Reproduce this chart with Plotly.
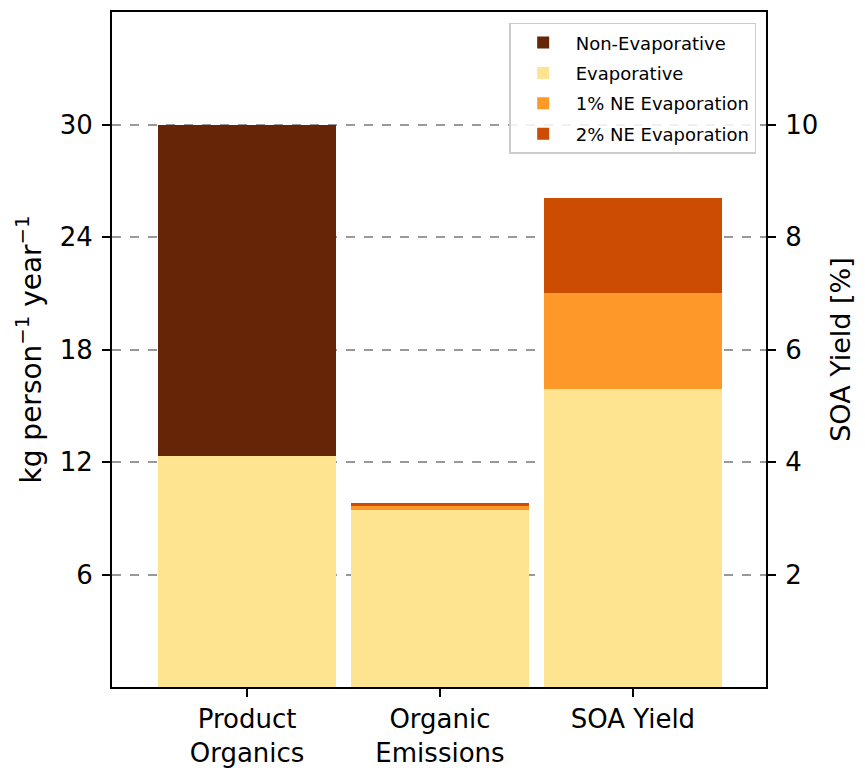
import plotly.graph_objects as go

# ---- data ----
categories = ["Product<br>Organics", "Organic<br>Emissions", "SOA Yield"]
cat_pos = [0, 1, 2]

# left axis (kg person^-1 year^-1)
evap_left = [12.3, 9.45]          # Product Organics, Organic Emissions
nonevap_left = [17.7]             # Product Organics
ne1_left = [0.18]                 # Organic Emissions
ne2_left = [0.18]                 # Organic Emissions

# right axis (SOA Yield %)
evap_soa = [5.29]
ne1_soa = [1.71]
ne2_soa = [1.70]

left_ticks = [6, 12, 18, 24, 30]
right_ticks = [2, 4, 6, 8, 10]

colors = {
    "Non-Evaporative": "#662506",
    "Evaporative": "#fee391",
    "1% NE Evaporation": "#fe9929",
    "2% NE Evaporation": "#cc4c02",
}
W = 0.92
FONT = "DejaVu Sans"

fig = go.Figure()

# Left axis stacks
fig.add_bar(x=cat_pos[:2], y=evap_left, name="Evaporative", legendgroup="ev",
            marker_color=colors["Evaporative"], width=W, legendrank=2,
            marker_line_width=0)
fig.add_bar(x=cat_pos[:1], y=nonevap_left, name="Non-Evaporative", legendgroup="ne",
            marker_color=colors["Non-Evaporative"], width=W, legendrank=1,
            marker_line_width=0)
fig.add_bar(x=cat_pos[1:2], y=ne1_left, name="1% NE Evaporation", legendgroup="n1",
            marker_color=colors["1% NE Evaporation"], width=W, legendrank=3,
            marker_line_width=0)
fig.add_bar(x=cat_pos[1:2], y=ne2_left, name="2% NE Evaporation", legendgroup="n2",
            marker_color=colors["2% NE Evaporation"], width=W, legendrank=4,
            marker_line_width=0)

# Right axis stacks
fig.add_bar(x=cat_pos[2:], y=evap_soa, name="Evaporative", legendgroup="ev", showlegend=False,
            marker_color=colors["Evaporative"], width=W, yaxis="y2", marker_line_width=0)
fig.add_bar(x=cat_pos[2:], y=ne1_soa, name="1% NE Evaporation", legendgroup="n1", showlegend=False,
            marker_color=colors["1% NE Evaporation"], width=W, yaxis="y2", marker_line_width=0)
fig.add_bar(x=cat_pos[2:], y=ne2_soa, name="2% NE Evaporation", legendgroup="n2", showlegend=False,
            marker_color=colors["2% NE Evaporation"], width=W, yaxis="y2", marker_line_width=0)

fig.update_layout(
    width=865, height=774,
    margin=dict(l=112, r=99, t=12, b=87, autoexpand=False),
    paper_bgcolor="white", plot_bgcolor="white",
    barmode="stack", bargap=0,
    font=dict(family=FONT, size=26, color="black"),
    showlegend=True,
    legend=dict(
        x=0.985, y=0.984, xanchor="right", yanchor="top",
        bgcolor="rgba(255,255,255,0.85)", bordercolor="#cccccc", borderwidth=1.5,
        font=dict(family=FONT, size=18, color="black"),
        traceorder="grouped", itemsizing="constant", tracegroupgap=4,
        itemwidth=55,
    ),
    xaxis=dict(
        range=[-0.7, 2.69], tickvals=cat_pos, ticktext=categories,
        showgrid=False, zeroline=False,
        showline=True, linecolor="black", linewidth=2, mirror=True,
        ticks="outside", ticklen=8, tickwidth=1.5, tickcolor="black",
        tickfont=dict(size=26),
    ),
    yaxis=dict(
        range=[0, 36], tickvals=left_ticks,
        title=dict(text="kg person<sup>\u22121</sup> year<sup>\u22121</sup>", font=dict(size=28), standoff=10),
        showgrid=True, gridcolor="#999999", griddash="dash", gridwidth=1.5,
        zeroline=False,
        showline=True, linecolor="black", linewidth=2,
        ticks="outside", ticklen=8, tickwidth=1.5, tickcolor="black",
        tickfont=dict(size=26), ticklabelstandoff=4,
    ),
    yaxis2=dict(
        range=[0, 12], tickvals=right_ticks, overlaying="y", side="right",
        title=dict(text="SOA Yield [%]", font=dict(size=27), standoff=14),
        showgrid=False, zeroline=False,
        showline=True, linecolor="black", linewidth=2,
        ticks="outside", ticklen=8, tickwidth=1.5, tickcolor="black",
        tickfont=dict(size=26), ticklabelstandoff=4,
    ),
)

fig.write_html("out.html", config={"displayModeBar": False},
               post_script="document.body.style.margin='0';")
